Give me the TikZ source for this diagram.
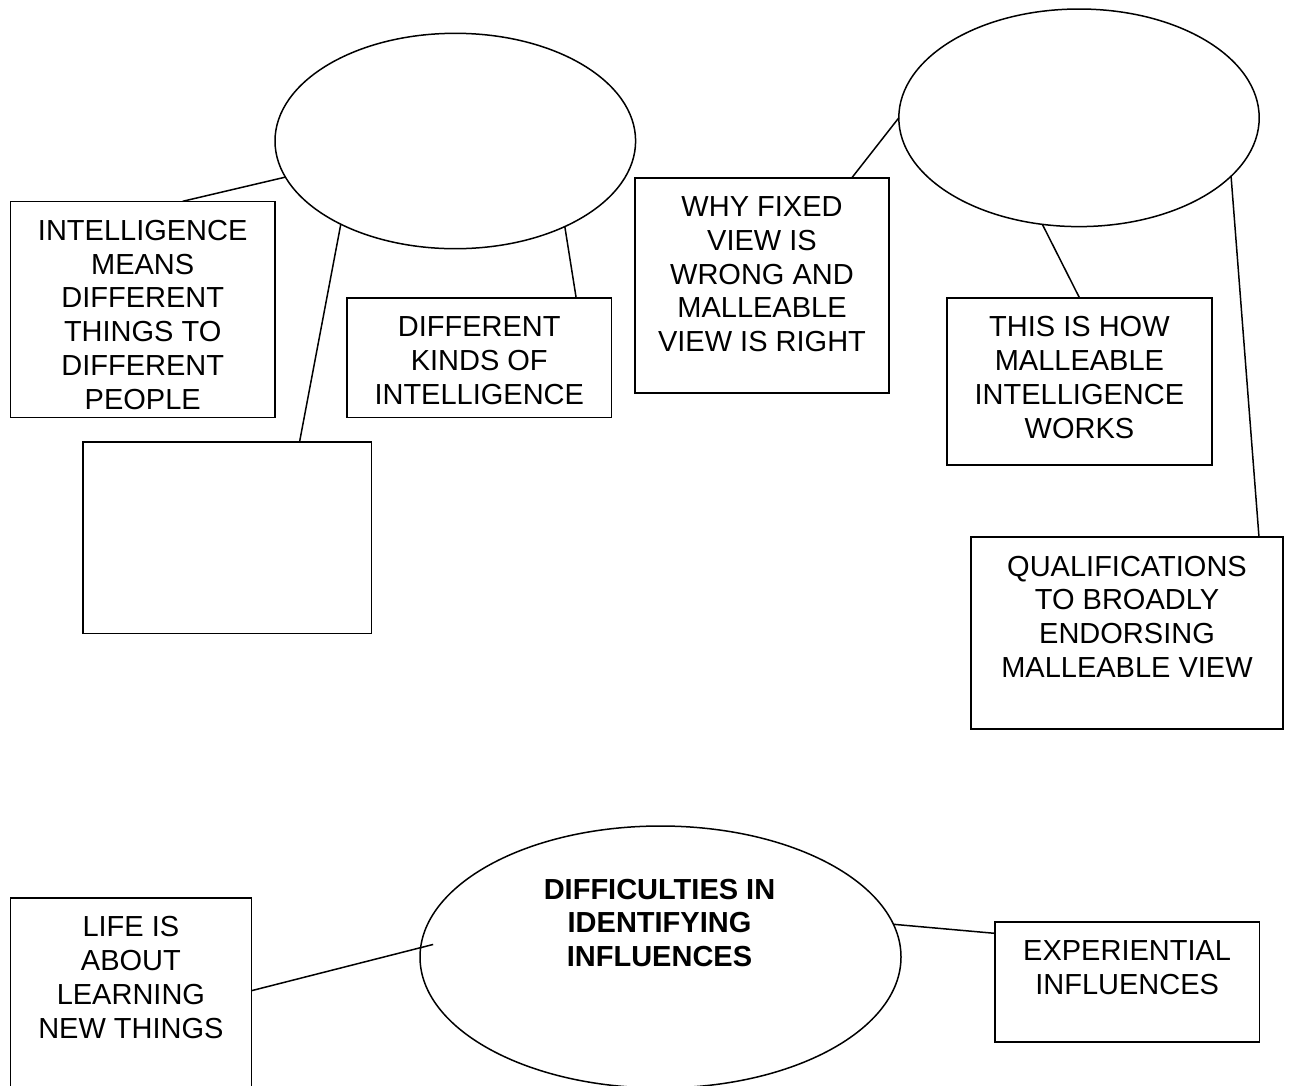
\documentclass[tikz,border=0pt]{standalone}
\usepackage{fontspec}
\setmainfont{Liberation Sans}
\usetikzlibrary{shapes.geometric,calc}
\tikzset{
  boxnode/.style={draw, line width=1.6pt, inner sep=0pt, outer sep=0pt, anchor=north west},
  ovalnode/.style={draw, ellipse, line width=1.5pt, inner sep=0pt, outer sep=0pt},
  txt/.style={anchor=north, inner sep=0pt, outer sep=0pt, align=center, font=\fontsize{29}{33.7}\selectfont},
  link/.style={line width=1.5pt},
}
\begin{document}
\begin{tikzpicture}[x=1pt, y=-1pt]
\useasboundingbox (0,0) rectangle (1289,1085);
\fill[white] (0,0) rectangle (1289,1085);

% ellipses
\node[ovalnode, minimum width=360.6pt, minimum height=215.4pt] (e1) at (455.3,141) {};
\node[ovalnode, minimum width=360.4pt, minimum height=217.6pt] (e2) at (1079,117.8) {};
\node[ovalnode, minimum width=481pt, minimum height=262pt] (e3) at (660.5,957) {};
\node[txt, font=\fontsize{29}{33.7}\selectfont\bfseries] (t3) at ($(e3.center)+(-1,-78)$) {DIFFICULTIES IN\\IDENTIFYING\\INFLUENCES};

% boxes
\node[boxnode, minimum width=264.6pt, minimum height=216pt] (bA) at (10.4,201.3) {};
\node[txt] (tA) at ($(bA.north)+(0,19)$) {INTELLIGENCE\\MEANS\\DIFFERENT\\THINGS TO\\DIFFERENT\\PEOPLE};

\node[boxnode, minimum width=264.7pt, minimum height=119.6pt] (bB) at (346.9,297.7) {};
\node[txt] (tB) at ($(bB.north)+(0,19)$) {DIFFERENT\\KINDS OF\\INTELLIGENCE};

\node[boxnode, minimum width=288.4pt, minimum height=191.6pt] (bC) at (83,441.7) {};

\node[boxnode, minimum width=254pt, minimum height=215.3pt] (bD) at (635,177.7) {};
\node[txt] (tD) at ($(bD.north)+(0,19)$) {WHY FIXED\\VIEW IS\\WRONG AND\\MALLEABLE\\VIEW IS RIGHT};

\node[boxnode, minimum width=265.2pt, minimum height=167.3pt] (bE) at (946.8,297.7) {};
\node[txt] (tE) at ($(bE.north)+(0,19)$) {THIS IS HOW\\MALLEABLE\\INTELLIGENCE\\WORKS};

\node[boxnode, minimum width=312pt, minimum height=192pt] (bF) at (971,537) {};
\node[txt] (tF) at ($(bF.north)+(0,19)$) {QUALIFICATIONS\\TO BROADLY\\ENDORSING\\MALLEABLE VIEW};

\node[boxnode, minimum width=241pt, minimum height=200pt] (bG) at (10.4,897.7) {};
\node[txt] (tG) at ($(bG.north)+(0,19)$) {LIFE IS\\ABOUT\\LEARNING\\NEW THINGS};

\node[boxnode, minimum width=264.9pt, minimum height=120pt] (bH) at (994.7,921.7) {};
\node[txt] (tH) at ($(bH.north)+(0,19)$) {EXPERIENTIAL\\INFLUENCES};

% connectors
\draw[link] ($(bA.north west)!0.651!(bA.north east)$) -- (e1.192);
\draw[link] ($(bC.north west)!0.751!(bC.north east)$) -- (e1.216);
\draw[link] ($(bB.north west)!0.866!(bB.north east)$) -- (e1.322);
\draw[link] ($(bD.north west)!0.854!(bD.north east)$) -- (e2.180);
\draw[link] (bE.north) -- (e2.251);
\draw[link] (e2.339) -- ($(bF.north west)!0.923!(bF.north east)$);
\draw[link] ($(bG.north east)+(0,93)$) -- ($(e3.177)+(12,0)$);
\draw[link] (e3.8) -- ($(bH.north west)+(0,11.6)$);
\end{tikzpicture}
\end{document}
